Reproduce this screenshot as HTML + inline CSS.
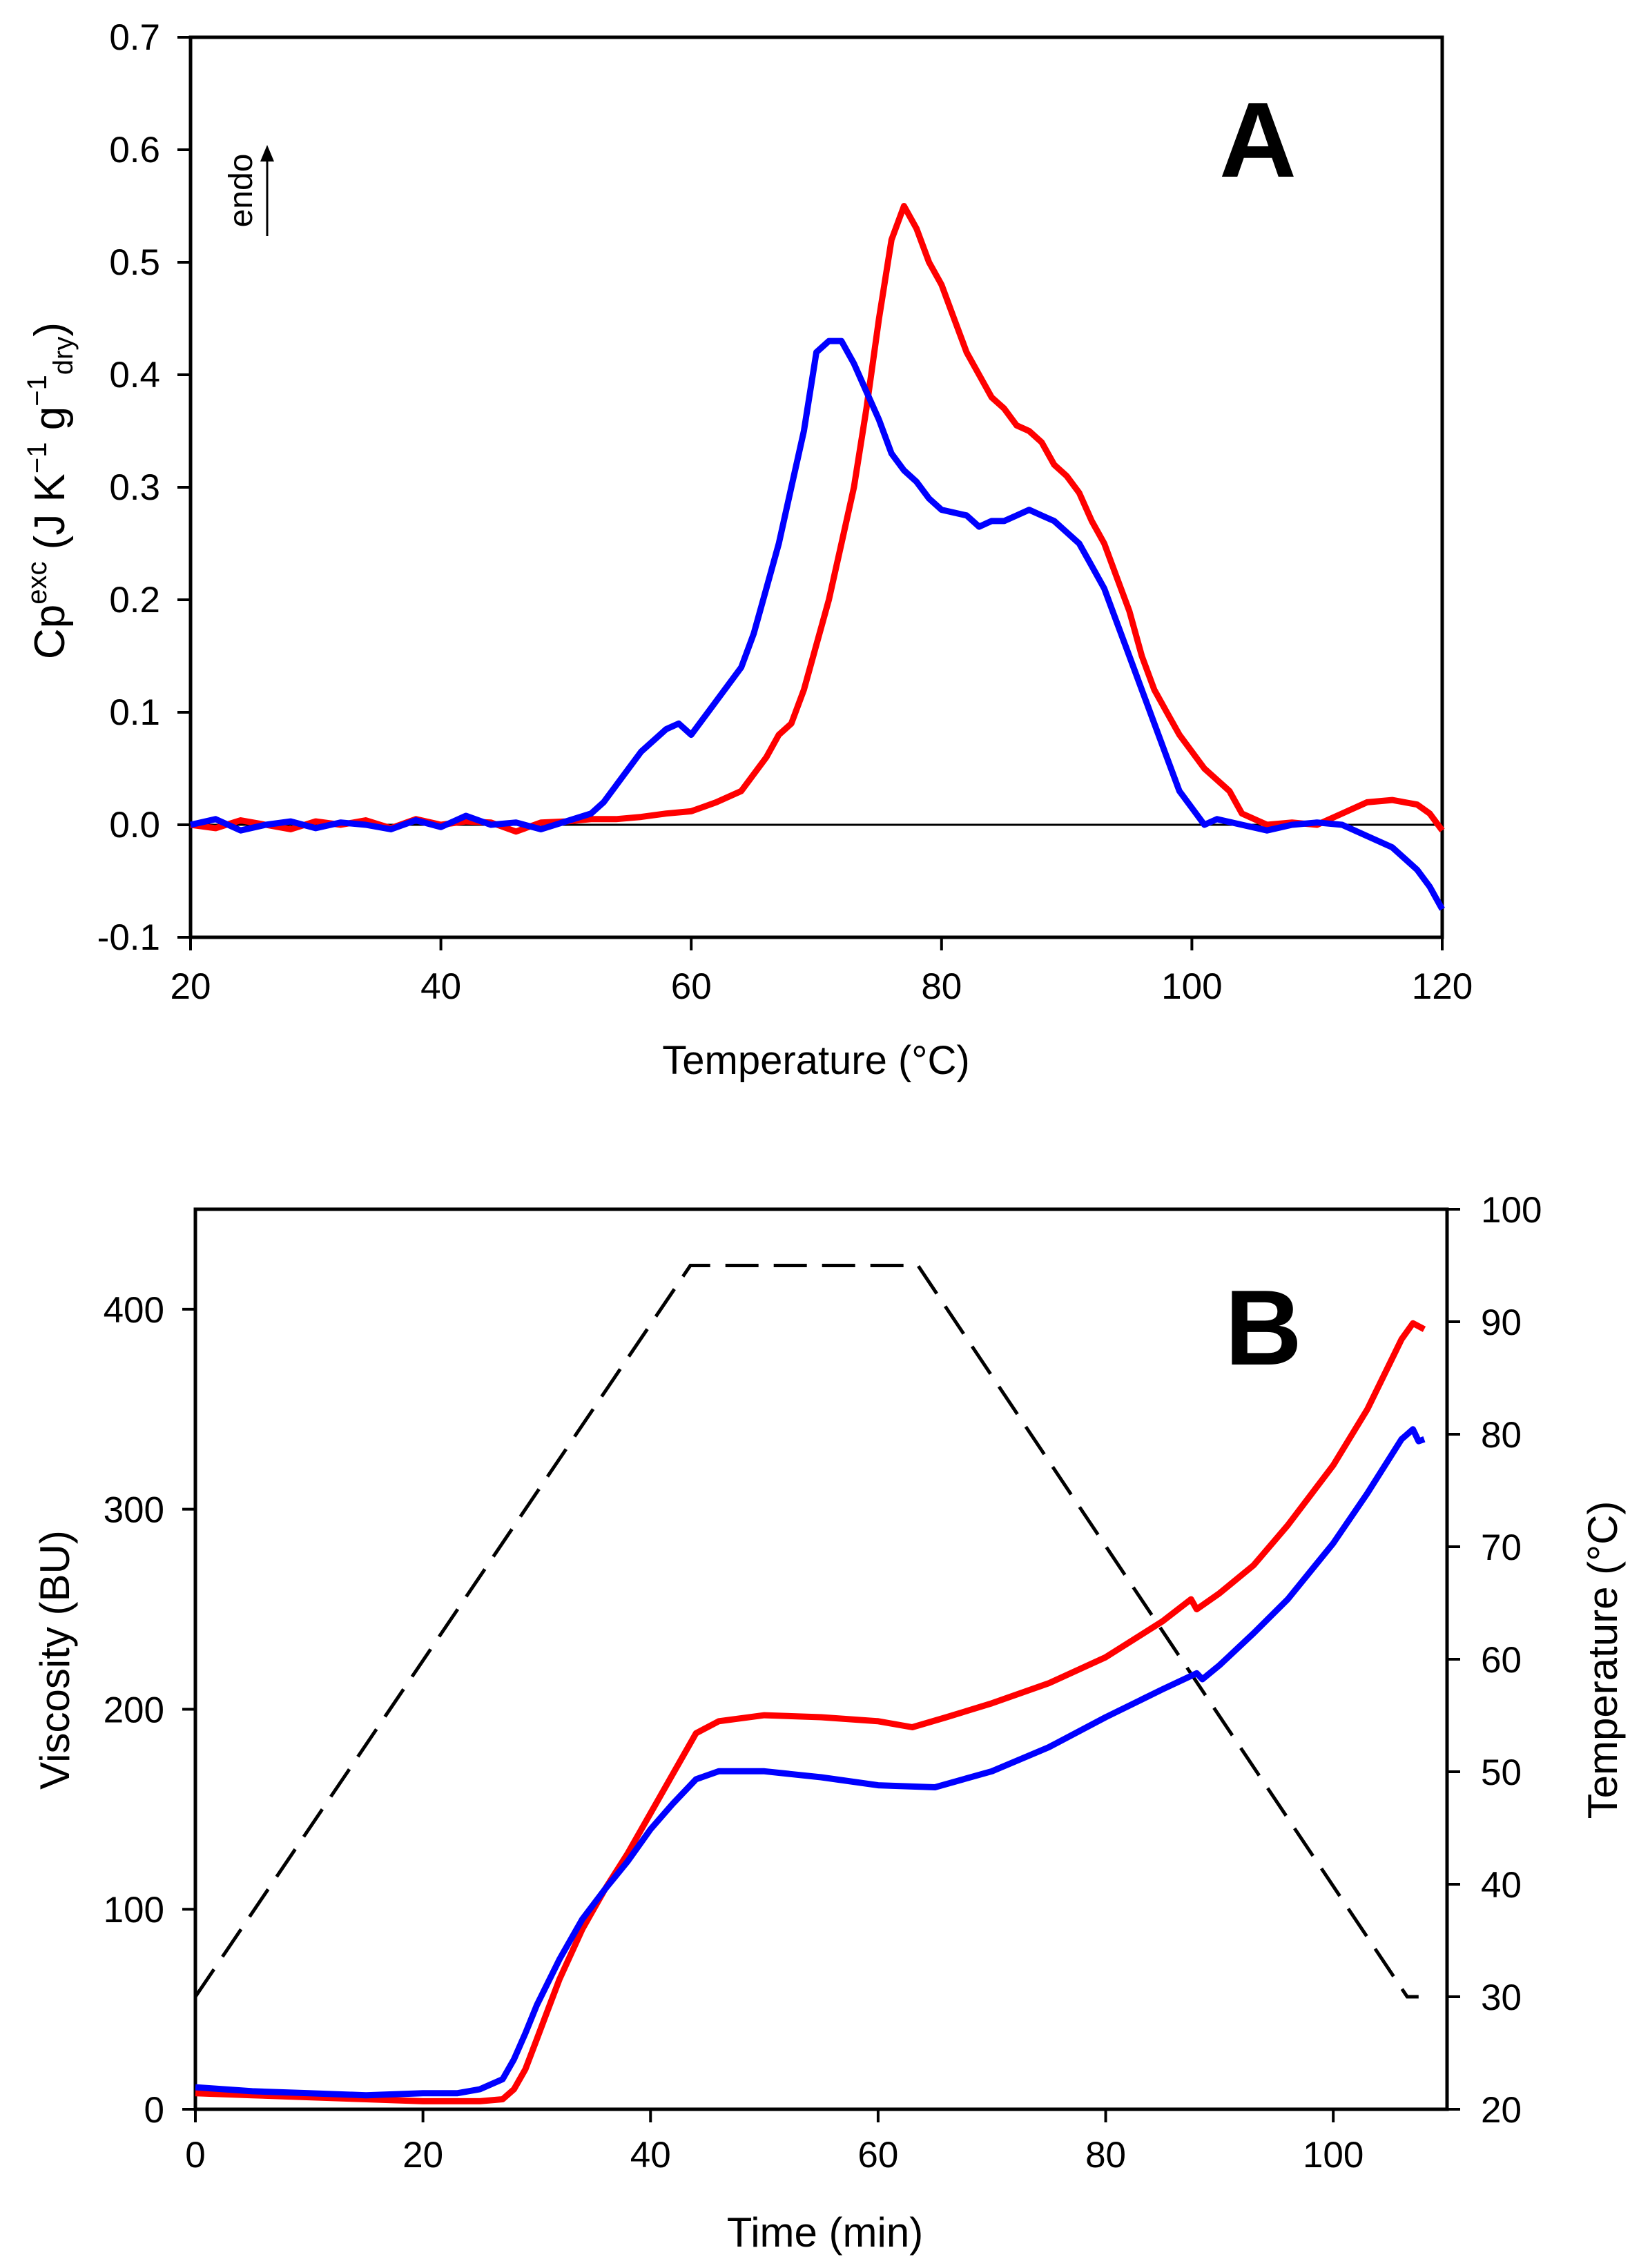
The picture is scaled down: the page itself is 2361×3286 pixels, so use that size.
<!DOCTYPE html>
<html><head><meta charset="utf-8"><style>
html,body{margin:0;padding:0;background:#fff;}
svg{display:block;font-family:"Liberation Sans",Arial,sans-serif;}
</style></head><body>
<svg id="fig" width="2361" height="3286" viewBox="0 0 2361 3286" xmlns="http://www.w3.org/2000/svg">
<g id="pa"></g>
<g id="pb"></g>
</svg>
<script>
// ---- Panel A data ----
const aTemp = [20,22,24,26,28,30,32,34,36,38,40,42,44,46,48,50,52,53,54,56,58,59,60,62,64,65,66,67,68,69,70,71,72,73,74,75,76,77,78,79,80,82,83,84,85,86,87,88,89,90,91,92,93,94,95,96,97,98,99,100,101,102,104,106,108,110,112,114,116,117,118,119,120];
const aBlue = [0,0.005,-0.005,0,0.003,-0.003,0.002,0,-0.004,0.004,-0.002,0.008,0,0.002,-0.004,0.003,0.01,0.02,0.035,0.065,0.085,0.09,0.08,0.11,0.14,0.17,0.21,0.25,0.30,0.35,0.42,0.43,0.43,0.41,0.385,0.36,0.33,0.315,0.305,0.29,0.28,0.275,0.265,0.27,0.27,0.275,0.28,0.275,0.27,0.26,0.25,0.23,0.21,0.18,0.15,0.12,0.09,0.06,0.03,0.015,0,0.005,0,-0.005,0,0.002,0,-0.01,-0.02,-0.03,-0.04,-0.055,-0.075];
const aRedT = [20,22,24,26,28,30,32,34,36,38,40,42,44,46,48,50,52,54,56,58,60,62,64,65,66,67,68,69,70,71,72,73,74,75,76,77,78,79,80,81,82,83,84,85,86,87,88,89,90,91,92,93,94,95,96,97,98,99,100,101,102,103,104,106,108,110,112,114,116,118,119,120];
const aRed = [0,-0.003,0.004,0,-0.004,0.003,0,0.004,-0.003,0.005,0,0.003,0.002,-0.006,0.002,0.003,0.005,0.005,0.007,0.01,0.012,0.02,0.03,0.045,0.06,0.08,0.09,0.12,0.16,0.2,0.25,0.3,0.37,0.45,0.52,0.55,0.53,0.5,0.48,0.45,0.42,0.4,0.38,0.37,0.355,0.35,0.34,0.32,0.31,0.295,0.27,0.25,0.22,0.19,0.15,0.12,0.1,0.08,0.065,0.05,0.04,0.03,0.01,0,0.002,0,0.01,0.02,0.022,0.018,0.01,-0.005];
const aXTicks = [20,40,60,80,100,120];
const aYTicks = [-0.1,0,0.1,0.2,0.3,0.4,0.5,0.6,0.7];
// ---- Panel B data ----
const bTimeRed = [0,5,10,15,20,25,27,28,29,30,31,32,34,36,38,40,42,44,46,50,55,60,63,66,70,75,80,85,87.5,88,90,93,96,100,103,106,107,108];
const bRed = [8,7,6,5,4,4,5,10,20,35,50,65,90,110,128,148,168,188,194,197,196,194,191,196,203,213,226,244,255,250,258,272,292,322,350,385,393,390];
const bTimeBlue = [0,5,10,15,20,23,25,27,28,29,30,32,34,36,38,40,42,44,46,50,55,60,65,70,75,80,85,88,88.5,90,93,96,100,103,106,107,107.5,108];
const bBlue = [11,9,8,7,8,8,10,15,25,38,52,75,95,110,124,140,153,165,169,169,166,162,161,169,181,196,210,218,215,222,238,255,283,308,335,340,334,335];
const bTempTime = [0,43.5,63.5,106.5,107.5];
const bTempVal = [30,95,95,30,30];
const bXTicks = [0,20,40,60,80,100];
const bYTicks = [0,100,200,300,400];
const bY2Ticks = [20,30,40,50,60,70,80,90,100];

const NS = "http://www.w3.org/2000/svg";
function mk(parent, tag, attrs, text){
  const e = document.createElementNS(NS, tag);
  for (const k in attrs) e.setAttribute(k, attrs[k]);
  if (text !== undefined) e.textContent = text;
  parent.appendChild(e);
  return e;
}
function pathD(xs, ys, fx, fy){
  return xs.map((x,i)=>(i?'L':'M')+fx(x).toFixed(1)+' '+fy(ys[i]).toFixed(1)).join(' ');
}
const FS = 53;

// ===== Panel A =====
const pa = document.getElementById('pa');
const axL=276, axR=2089, ayT=54, ayB=1358;
const ax = v => axL + (v-20)/(100)*(axR-axL);
const ay = v => ayB - (v+0.1)/0.8*(ayB-ayT);
let e;
e = mk(pa,'rect',{x:axL,y:ayT,width:axR-axL,height:ayB-ayT,fill:'none',stroke:'#000','stroke-width':5});
 
e = mk(pa,'line',{x1:axL,x2:axR,y1:ay(0),y2:ay(0),stroke:'#000','stroke-width':3});
 
aYTicks.forEach(v=>{
  const y=ay(v);
  const t = mk(pa,'line',{x1:axL-19,x2:axL,y1:y,y2:y,stroke:'#000','stroke-width':4});
   
  const l = mk(pa,'text',{x:232,y:y+18,'text-anchor':'end','font-size':FS},v.toFixed(1));
   
});
aXTicks.forEach(v=>{
  const x=ax(v);
  const t = mk(pa,'line',{x1:x,x2:x,y1:ayB,y2:ayB+19,stroke:'#000','stroke-width':4});
   
  const l = mk(pa,'text',{x:x,y:1447,'text-anchor':'middle','font-size':FS},String(v));
   
});
e = mk(pa,'path',{d:pathD(aRedT,aRed,ax,ay),fill:'none',stroke:'#ff0000','stroke-width':9,'stroke-linejoin':'round'});
 
e = mk(pa,'path',{d:pathD(aTemp,aBlue,ax,ay),fill:'none',stroke:'#0000ff','stroke-width':9,'stroke-linejoin':'round'});
 
e = mk(pa,'text',{x:1182,y:1556,'text-anchor':'middle','font-size':58},'Temperature (°C)');
 
e = mk(pa,'text',{transform:'translate(93,711) rotate(-90)','text-anchor':'middle','font-size':62});
 
e.innerHTML = 'Cp<tspan dy="-26" font-size="40">exc</tspan><tspan dy="26"> (J K</tspan><tspan dy="-26" font-size="40">−1</tspan><tspan dy="26"> g</tspan><tspan dy="-26" font-size="40">−1</tspan><tspan dy="38" font-size="40">dry</tspan><tspan dy="-12">)</tspan>';
e = mk(pa,'text',{x:1822,y:256,'text-anchor':'middle','font-size':155,'font-weight':'bold'},'A');
 
e = mk(pa,'line',{x1:387,x2:387,y1:342,y2:230,stroke:'#000','stroke-width':3});
 
e = mk(pa,'polygon',{points:'387,210 377,234 397,234',fill:'#000'});
 
e = mk(pa,'text',{transform:'translate(365,276) rotate(-90)','text-anchor':'middle','font-size':48},'endo');
 

// ===== Panel B =====
const pb = document.getElementById('pb');
const bL=283, bR=2096, bT=1752, bB=3056;
const bx = v => bL + v/110*(bR-bL);
const by = v => bB - v/450*(bB-bT);
const by2 = v => bB - (v-20)/80*(bB-bT);
e = mk(pb,'rect',{x:bL,y:bT,width:bR-bL,height:bB-bT,fill:'none',stroke:'#000','stroke-width':5});
 
bYTicks.forEach(v=>{
  const y=by(v);
  const t = mk(pb,'line',{x1:bL-19,x2:bL,y1:y,y2:y,stroke:'#000','stroke-width':4});
   
  const l = mk(pb,'text',{x:238,y:y+19,'text-anchor':'end','font-size':FS},String(v));
   
});
bY2Ticks.forEach(v=>{
  const y=by2(v);
  const t = mk(pb,'line',{x1:bR,x2:bR+19,y1:y,y2:y,stroke:'#000','stroke-width':4});
   
  const l = mk(pb,'text',{x:2145,y:y+19,'text-anchor':'start','font-size':FS},String(v));
   
});
bXTicks.forEach(v=>{
  const x=bx(v);
  const t = mk(pb,'line',{x1:x,x2:x,y1:bB,y2:bB+19,stroke:'#000','stroke-width':4});
   
  const l = mk(pb,'text',{x:x,y:3140,'text-anchor':'middle','font-size':FS},String(v));
   
});
e = mk(pb,'path',{d:pathD(bTempTime,bTempVal,bx,by2),fill:'none',stroke:'#000','stroke-width':5,'stroke-dasharray':'48 22'});
 
e = mk(pb,'path',{d:pathD(bTimeRed,bRed,bx,by),fill:'none',stroke:'#ff0000','stroke-width':9,'stroke-linejoin':'round'});
 
e = mk(pb,'path',{d:pathD(bTimeBlue,bBlue,bx,by),fill:'none',stroke:'#0000ff','stroke-width':9,'stroke-linejoin':'round'});
 
e = mk(pb,'text',{x:1195,y:3255,'text-anchor':'middle','font-size':60},'Time (min)');
 
e = mk(pb,'text',{transform:'translate(100,2405) rotate(-90)','text-anchor':'middle','font-size':60},'Viscosity (BU)');
 
e = mk(pb,'text',{transform:'translate(2342,2405) rotate(-90)','text-anchor':'middle','font-size':60},'Temperature (°C)');
 
e = mk(pb,'text',{x:1830,y:1977,'text-anchor':'middle','font-size':155,'font-weight':'bold'},'B');
 
</script>
</body></html>
